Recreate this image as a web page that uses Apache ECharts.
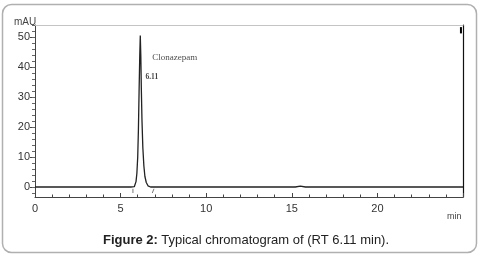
<!DOCTYPE html>
<html>
<head>
<meta charset="utf-8">
<script src="https://cdn.jsdelivr.net/npm/echarts@6/dist/echarts.min.js"></script>
<style>
html,body{margin:0;padding:0;background:#fff;}
#c{width:479px;height:256px;}
</style>
</head>
<body>
<div id="c"></div>
<script>
// Chromatogram signal (time in min, absorbance in mAU)
var times   = [0, 3.0, 5.6, 5.80, 5.85, 5.90, 5.95, 6.00, 6.04, 6.08, 6.12, 6.15, 6.18, 6.21, 6.25, 6.30, 6.36, 6.42, 6.50, 6.60, 6.75, 10, 15.2, 15.5, 15.8, 20, 25];
var signal  = [0, 0.05, 0, 0.1, 0.6, 1.8, 4.5, 10, 19, 32, 44, 50.5, 44, 33, 22, 13, 7, 3.5, 1.5, 0.4, 0, 0, 0, 0.3, 0, 0, 0];
var xTicks = [0, 5, 10, 15, 20];
var yTickLabels = [0, 10, 20, 30, 40, 50];
var yMinorTicks = [-2, 0, 2, 4, 6, 8, 10, 12, 14, 16, 18, 20, 22, 24, 26, 28, 30, 32, 34, 36, 38, 40, 42, 44, 46, 48, 50, 52, 54];
var peakName = 'Clonazepam';
var peakRT = '6.11';
var peakNamePos = [6.85, 43];
var peakRTPos = [6.45, 36.5];
var eventMarker = [[24.88, 53.3], [24.88, 51.2]];
var integStart = [[5.72, -0.6], [5.72, -2.0]];
var integEnd = [[6.95, -0.6], [6.85, -0.6], [6.85, -2.0]];

var chart = echarts.init(document.getElementById('c'));
var data = times.map(function (t, i) { return [t, signal[i]]; });
var axisColor = '#444';
var font = 'Liberation Sans, Arial, sans-serif';

chart.setOption({
  animation: false,
  graphic: [
    { type: 'rect', shape: { x: 2.5, y: 4.5, width: 474, height: 248, r: 9 }, style: { fill: 'none', stroke: '#b0b0b0', lineWidth: 1.5 }, z: -1 },
    { type: 'text', left: 14, top: 17, style: { text: 'mAU', fontSize: 10, fill: '#444', fontFamily: font } },
    { type: 'text', left: 447, top: 212, style: { text: 'min', fontSize: 9, fill: '#444', fontFamily: font } },
    { type: 'text', left: 103, top: 234, style: {
        rich: {
          b: { fontWeight: 'bold', fontSize: 13, fill: '#222', fontFamily: font },
          n: { fontSize: 13, fill: '#222', fontFamily: font }
        },
        text: '{b|Figure 2:} {n|Typical chromatogram of (RT 6.11 min).}'
    } }
  ],
  grid: { left: 35, right: 16, top: 25, bottom: 59 },
  xAxis: [
    {
      type: 'value', position: 'bottom', min: 0, max: 25, interval: 5,
      axisLine: { onZero: false, lineStyle: { color: axisColor, width: 1 } },
      axisTick: { inside: true, length: 4, lineStyle: { color: axisColor } },
      minorTick: { show: true, splitNumber: 5, length: 2.5, lineStyle: { color: axisColor } },
      axisLabel: { color: '#333', fontSize: 11, margin: 6, fontFamily: font,
        formatter: function (v) { return xTicks.indexOf(v) >= 0 ? String(v) : ''; } },
      splitLine: { show: false }
    },
    {
      type: 'value', position: 'top', min: 0, max: 25,
      axisLine: { show: true, onZero: false, lineStyle: { color: '#c4c4c4', width: 1 } },
      axisTick: { show: false }, axisLabel: { show: false }, splitLine: { show: false }
    }
  ],
  yAxis: [
    {
      type: 'value', position: 'left', min: -3.33, max: 54,
      axisLine: { show: true, onZero: false, lineStyle: { color: axisColor, width: 1 } },
      axisTick: { show: true, length: 5, customValues: yTickLabels, lineStyle: { color: axisColor } },
      axisLabel: { color: '#333', fontSize: 11, margin: 5, fontFamily: font, customValues: yTickLabels },
      splitLine: { show: false }
    },
    {
      type: 'value', position: 'left', min: -3.33, max: 54,
      axisLine: { show: false, onZero: false },
      axisTick: { show: true, length: 3, customValues: yMinorTicks, lineStyle: { color: '#666' } },
      axisLabel: { show: false, customValues: yMinorTicks },
      splitLine: { show: false }
    },
    {
      type: 'value', position: 'right', min: -3.33, max: 54,
      axisLine: { show: true, onZero: false, lineStyle: { color: '#111', width: 1.2 } },
      axisTick: { show: false }, axisLabel: { show: false }, splitLine: { show: false }
    }
  ],
  series: [
    {
      type: 'line', data: data, xAxisIndex: 0, yAxisIndex: 0, symbol: 'none',
      lineStyle: { color: '#222', width: 1.3 }
    },
    {
      type: 'line', data: eventMarker, symbol: 'none', lineStyle: { color: '#000', width: 2 }
    },
    {
      type: 'line', data: integStart, symbol: 'none', lineStyle: { color: '#555', width: 0.8 }
    },
    {
      type: 'line', data: integEnd, symbol: 'none', lineStyle: { color: '#555', width: 0.8 }
    },
    {
      type: 'scatter', symbolSize: 0,
      data: [
        { value: peakNamePos, label: { show: true, position: 'right', distance: 0, formatter: peakName,
            fontFamily: 'Liberation Serif, Times New Roman, serif', fontSize: 9, color: '#222' } },
        { value: peakRTPos, label: { show: true, position: 'right', distance: 0, formatter: peakRT,
            fontFamily: 'Liberation Serif, Times New Roman, serif', fontSize: 7.5, fontWeight: 'bold', color: '#111' } }
      ]
    }
  ]
});
</script>
</body>
</html>
